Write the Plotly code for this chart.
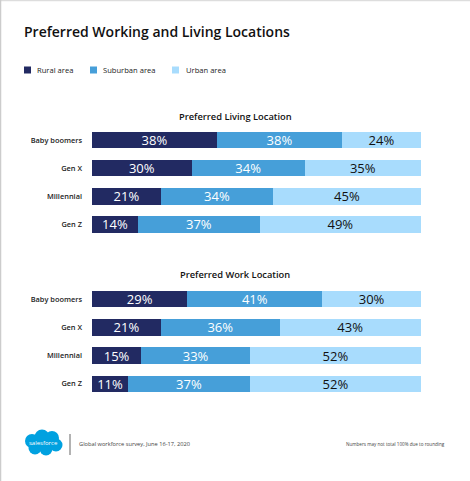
import plotly.graph_objects as go

W, H = 470, 481

generations = ["Baby boomers", "Gen X", "Millennial", "Gen Z"]
areas = ["Rural area", "Suburban area", "Urban area"]

living_rural = [38, 30, 21, 14]
living_suburban = [38, 34, 34, 37]
living_urban = [24, 35, 45, 49]

work_rural = [29, 21, 15, 11]
work_suburban = [41, 36, 33, 37]
work_urban = [30, 43, 52, 52]

colors = ["#222a62", "#469fd9", "#a8dcfd"]
text_colors = ["white", "white", "#111111"]
FONT = "Open Sans"


def px(x):
    return x / W


def py(y):
    return 1 - y / H


fig = go.Figure()

panels = [
    ("x", "y", [living_rural, living_suburban, living_urban]),
    ("x2", "y2", [work_rural, work_suburban, work_urban]),
]
for xa, ya, series in panels:
    for name, vals, col, tc in zip(areas, series, colors, text_colors):
        fig.add_trace(go.Bar(
            x=vals, y=generations, orientation="h", name=name,
            xaxis=xa, yaxis=ya,
            marker=dict(color=col, line=dict(width=0)),
            text=[f"{v}%" for v in vals],
            textposition="inside", insidetextanchor="middle",
            textangle=0, constraintext="none",
            textfont=dict(family=FONT, size=13, color=tc),
            showlegend=False, hoverinfo="skip",
        ))

xaxis_common = dict(visible=False, range=[0, 100], domain=[px(92), px(421)], fixedrange=True)
yaxis_common = dict(
    categoryorder="array", categoryarray=generations, autorange="reversed",
    showgrid=False, zeroline=False, showline=False, ticks="",
    ticklabelstandoff=9,
    tickfont=dict(family=FONT, size=7.4, color="#222222", weight=600),
    fixedrange=True,
)

fig.update_layout(
    width=W, height=H,
    margin=dict(l=0, r=0, t=0, b=0),
    paper_bgcolor="white", plot_bgcolor="white",
    barmode="stack", barnorm="percent", bargap=0.41,
    xaxis=dict(xaxis_common, anchor="y"),
    yaxis=dict(yaxis_common, domain=[py(238.4), py(126)], anchor="x"),
    xaxis2=dict(xaxis_common, anchor="y2"),
    yaxis2=dict(yaxis_common, domain=[py(398), py(284.8)], anchor="x2"),
    font=dict(family=FONT),
)

annotations = [
    dict(text="Preferred Working and Living Locations", x=px(22), y=py(31),
         xanchor="left", yanchor="middle",
         font=dict(size=14, color="#111111", weight=600)),
    dict(text="Preferred Living Location", x=0.5, y=py(116),
         xanchor="center", yanchor="middle",
         font=dict(size=9.3, color="#111111", weight=600)),
    dict(text="Preferred Work Location", x=0.5, y=py(274.5),
         xanchor="center", yanchor="middle",
         font=dict(size=9.3, color="#111111", weight=600)),
    dict(text="Global workforce survey, June 16-17, 2020", x=px(77), y=py(444),
         xanchor="left", yanchor="middle",
         font=dict(size=5.7, color="#444444")),
    dict(text="Numbers may not total 100% due to rounding", x=px(447), y=py(444),
         xanchor="right", yanchor="middle",
         font=dict(size=4.6, color="#444444")),
    dict(text="salesforce", x=px(43.5), y=py(443), xanchor="center", yanchor="middle",
         font=dict(size=6, color="white")),
]

shapes = [
    dict(type="line", x0=0, x1=1, y0=py(0.5), y1=py(0.5), line=dict(color="#dddddd", width=1.5)),
    dict(type="line", x0=px(0.5), x1=px(0.5), y0=0, y1=1, line=dict(color="#cccccc", width=1.5)),
    dict(type="line", x0=px(70), x1=px(70), y0=py(434), y1=py(455), line=dict(color="#999999", width=1.5)),
]

# legend drawn by hand to match the small square swatches
legend_pos = [(24, 35), (90, 101), (172, 184)]
for (sx, tx), name, col in zip(legend_pos, areas, colors):
    shapes.append(dict(type="rect", x0=px(sx), x1=px(sx + 7), y0=py(73.5), y1=py(66.5),
                       fillcolor=col, line=dict(width=0)))
    annotations.append(dict(text=name, x=px(tx), y=py(70), xanchor="left", yanchor="middle",
                            font=dict(size=7.6, color="#222222")))

# salesforce cloud logo
cloud = [(32, 441, 7), (42, 437, 7.5), (52, 438, 7), (56, 445, 6.5), (46, 449, 6.5),
         (35, 448, 6.5), (44, 443, 8)]
for cx, cy, r in cloud:
    shapes.append(dict(type="circle", x0=px(cx - r), x1=px(cx + r), y0=py(cy + r), y1=py(cy - r),
                       fillcolor="#00a1e0", line=dict(width=0), layer="below"))

for a in annotations:
    a.update(xref="paper", yref="paper", showarrow=False)
    a["font"].setdefault("family", FONT)
for s in shapes:
    s.update(xref="paper", yref="paper")

fig.update_layout(annotations=annotations, shapes=shapes)

# drop the default 8px page margin so the figure sits at the window corner
fig.write_html("out.html", config={"displayModeBar": False},
               post_script="document.body.style.margin='0';document.body.style.overflow='hidden';")
